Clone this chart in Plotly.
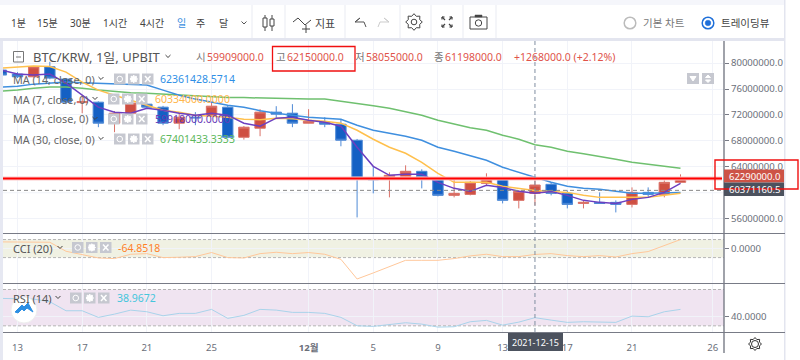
import math
import pandas as pd
import plotly.graph_objects as go

# ---------- data ----------
dates = pd.date_range("2021-11-12", "2021-12-24").strftime("%Y-%m-%d").tolist()
opens = [78.92,78.3,77.88,79.43,77.53,73.9,73.97,70.73,72.27,73.66,73.2,70.73,71.65,71.96,73.2,68.56,69.95,72.43,72.27,
         70.73,70.88,70.57,68.1,62.2,62.07,62.53,63.31,62.07,59.6,59.75,61.45,62.07,58.83,59.909,61.3,59.91,58.36,58.52,58.52,58.21,60.06,59.75,61.61]
highs = [79.2,78.6,79.55,80.2,77.7,75.05,74.1,72.6,74.0,73.8,73.4,72.27,72.43,73.97,73.5,70.3,72.89,73.35,73.66,
         72.89,71.65,71.34,68.3,64.08,63.15,64.23,63.62,62.38,62.23,61.8,63.0,62.3,60.37,62.15,61.61,60.37,58.83,60.06,58.83,60.83,60.83,61.92,62.84]
lows = [78.15,77.7,77.75,77.5,73.66,72.27,70.11,69.34,71.96,73.1,70.42,69.8,70.42,71.8,68.4,68.2,68.72,71.5,70.11,
        70.7,70.11,67.17,56.2,59.91,59.29,62.38,60.68,59.44,59.29,59.6,61.14,58.36,57.59,58.055,59.6,57.59,57.59,58.3,56.97,57.74,59.29,59.29,61.45]
closes = [78.15,77.88,79.43,77.68,73.97,74.05,70.73,72.27,73.82,73.2,70.73,71.65,71.55,73.35,68.56,70.11,72.43,72.12,70.73,
          71.04,70.57,68.1,62.23,62.0,62.69,63.31,62.38,59.6,59.91,61.61,62.23,58.83,60.22,61.198,59.91,58.21,58.52,58.36,58.21,60.06,59.75,61.61,62.29]
ma3 = [78.92,78.3,78.15,78.3,76.91,75.05,73.2,72.43,72.27,73.04,72.74,72.27,71.96,72.27,71.96,70.73,70.26,71.5,71.65,
       71.19,70.88,70.26,67.02,64.08,62.69,62.84,62.84,61.61,60.68,60.22,61.14,60.83,60.22,59.918,60.2,59.6,58.83,58.52,58.36,58.98,59.29,60.06,61.45]
ma7 = [79.23,79.38,79.54,79.46,78.61,77.06,75.83,75.05,74.28,73.51,72.74,72.43,71.96,71.81,71.65,71.34,71.27,71.5,71.42,
       71.19,71.04,70.73,69.64,68.25,67.02,66.09,64.7,63.0,61.61,61.61,61.61,60.99,60.68,60.334,60.2,60.06,59.6,59.29,59.29,59.29,59.29,59.6,59.91]
ma14 = [76.29,76.44,76.75,76.91,77.06,76.98,76.91,76.83,76.75,76.6,75.83,75.05,74.44,73.97,73.51,73.2,72.66,72.27,71.96,
        71.65,71.5,71.34,70.42,69.64,69.18,68.72,68.1,67.02,66.4,65.7,65.01,63.93,63.15,62.361,61.61,60.99,60.68,60.53,60.22,59.91,59.91,59.98,60.06]
ma30 = [75.67,75.83,76.13,76.29,76.29,76.13,75.83,75.6,75.44,75.36,75.21,75.05,74.9,74.74,74.67,74.67,74.59,74.51,74.44,
        74.44,74.44,74.13,73.74,73.43,73.04,72.5,71.96,71.19,70.57,70.03,69.64,68.87,68.25,67.401,67.02,66.4,66.01,65.63,65.16,64.7,64.39,64.08,63.77]
cci = [74,74,74,70,-30,-67,-104,-111,-63,-56,-100,-96,-89,-44,-100,-104,-56,-41,-56,
       -44,-63,-119,-337,-270,-204,-130,-130,-130,-111,-81,-63,-89,-89,-64.85,-56,-78,-89,-78,-93,-56,-33,30,100]
rsi = [60.2,60.2,59.4,56.5,46.6,46.6,39.3,42.9,47.3,45.5,41.1,43.7,43.7,48.1,38.2,41.5,48.1,47.3,44.8,
       44.8,43.7,39.3,30.1,29.4,31.6,33.4,31.9,28.6,29,34.5,36,30.8,34.1,38.97,36.3,33.8,34.5,34.5,33.8,40.7,40,45.5,48.1]
price_ticks = [56,64,68,72,76,80]
hidden_grid_price = 60
date_ticks = ["2021-11-13","2021-11-17","2021-11-21","2021-11-25","2021-12-01","2021-12-05","2021-12-09","2021-12-13","2021-12-17","2021-12-21","2021-12-26"]
date_labels = ["13","17","21","25","<b>12월</b>","5","9","13","17","21","26"]
last_price = 62.2
prev_line = 60.37116
cross_date = "2021-12-15"
FONT = "Noto Sans, Noto Sans CJK KR, sans-serif"
UP, DOWN = "#cf4f42", "#1460c4"
UP_EDGE, DOWN_EDGE = "#da7268", "#4f8ad6"
GREY = "#6b6f7a"

# ---------- helpers ----------
W, H = 800.0, 360.0
def P(x): return x / W
def Q(y): return 1 - y / H
shapes, notes = [], []
def rect(x0, y0, x1, y1, fill, line=None, lw=0, layer="above"):
    shapes.append(dict(type="rect", xref="paper", yref="paper", x0=P(x0), x1=P(x1), y0=Q(y0), y1=Q(y1),
                       fillcolor=fill, line=dict(color=line or fill, width=lw), layer=layer))
def seg(x0, y0, x1, y1, color, w=1, dash="solid", layer="above"):
    shapes.append(dict(type="line", xref="paper", yref="paper", x0=P(x0), x1=P(x1), y0=Q(y0), y1=Q(y1),
                       line=dict(color=color, width=w, dash=dash), layer=layer))
def circ(cx, cy, r, fill="rgba(0,0,0,0)", line="#888", w=1):
    shapes.append(dict(type="circle", xref="paper", yref="paper", x0=P(cx-r), x1=P(cx+r), y0=Q(cy+r), y1=Q(cy-r),
                       fillcolor=fill, line=dict(color=line, width=w), layer="above"))
def poly(pts, color, w=1, fill="rgba(0,0,0,0)", close=False):
    d = "M " + " L ".join(f"{P(a):.5f},{Q(b):.5f}" for a, b in pts) + (" Z" if close else "")
    shapes.append(dict(type="path", xref="paper", yref="paper", path=d, fillcolor=fill,
                       line=dict(color=color, width=w), layer="above"))
def text(x, y, s, color="#555a66", size=10.5, anchor="left"):
    notes.append(dict(xref="paper", yref="paper", x=P(x), y=Q(y), text=s, showarrow=False, xanchor=anchor,
                      yanchor="middle", font=dict(family=FONT, size=size, color=color), borderpad=0, borderwidth=0))
def chevron(x, y, color="#444"):
    poly([(x-2.5, y-1.5), (x, y+1), (x+2.5, y-1.5)], color, 1)
def gear(cx, cy, r, color, w=1, fill="rgba(0,0,0,0)"):
    pts = []
    for i in range(16):
        a = i * math.pi / 8
        rr = r if i % 2 == 0 else r * 0.74
        pts.append((cx + rr * math.cos(a), cy + rr * math.sin(a)))
    poly(pts, color, w, fill, True)
def buttons(x, y):
    for i in range(3):
        rect(x+i*14, y-5.5, x+i*14+11.5, y+5.5, "#c6c8d0")
    circ(x+5.75, y, 2.8, "rgba(0,0,0,0)", "#fff", 1)
    gear(x+19.75, y, 3.8, "#fff", 1, "#fff")
    seg(x+31, y-3, x+36.5, y+3, "#fff", 1.5)
    seg(x+31, y+3, x+36.5, y-3, "#fff", 1.5)

# ---------- page chrome ----------
rect(0, 0, 785, 5, "#f5f6fb")
rect(0, 38, 785, 41, "#e3e5ef")
rect(0, 41, 3, 360, "#e6e8f2")
rect(784, 0, 785.5, 360, "#e3e5ef")
for sx in [252, 285, 345, 400, 431, 463, 496]:
    seg(sx, 5, sx, 38, "#e9ebf2", 1)
for cx, s, c in [(18,"1분","#444"),(47,"15분","#444"),(80,"30분","#444"),(115,"1시간","#444"),(152,"4시간","#444"),
                 (181,"일","#3d8fe0"),(201,"주","#444"),(223,"달","#444"),(325,"지표","#444")]:
    text(cx, 23, s, c, 10 if s != "지표" else 11, "center")
chevron(244, 23, "#555")
# candle-type icon
seg(265, 15, 265, 31, "#444", 1); rect(263, 18, 267, 27, "#fff", "#444", 1)
seg(272, 15, 272, 31, "#444", 1); rect(270, 19, 274, 26, "#fff", "#444", 1)
# indicators icon
poly([(293, 22), (298, 18), (305, 25), (311, 20)], "#444", 1)
seg(302, 29, 310, 29, "#444", 1); seg(306, 25, 306, 33, "#444", 1)
# undo / redo
poly([(355, 22), (360, 18), (355, 22), (364, 22), (366, 27)], "#555", 1)
poly([(389, 22), (384, 18), (389, 22), (380, 22), (378, 27)], "#ccc", 1)
gear(414, 22, 8.3, "#444", 1); circ(414, 22, 2.8, line="#444")
for dx, dy in [(-1,-1),(1,-1),(-1,1),(1,1)]:
    seg(447+dx*2, 22+dy*2, 447+dx*5, 22+dy*5, "#444", 1.2)
    seg(447+dx*5, 22+dy*5, 447+dx*2.5, 22+dy*5, "#444", 1.2)
    seg(447+dx*5, 22+dy*5, 447+dx*5, 22+dy*2.5, "#444", 1.2)
rect(470, 17, 487, 29, "#fff", "#444", 1); rect(475, 15, 482, 17, "#444", "#444", 0.5); circ(478.5, 23, 3.2, line="#444")
circ(630, 23, 5.8, "#fff", "#bbbbbb", 1.5)
text(664, 22.5, "기본 차트", "#777", 10.5, "center")
circ(708, 23, 5.8, "#fff", "#1e6fd9", 1.5); circ(708, 23, 2.8, "#1e6fd9", "#1e6fd9", 0.5)
text(745, 22.5, "트레이딩뷰", "#444", 10.5, "center")

# ---------- chart legends ----------
rect(13.5, 51.5, 23.5, 62, "rgba(0,0,0,0)", "#777", 1); seg(16, 57, 21, 57, "#777", 1)
text(33, 57, "BTC/KRW, 1일, UPBIT", "#555", 13); chevron(168, 56.5)
RED = "#e0534a"
text(196, 57.5, "시", "#777"); text(207, 57.5, "59909000.0", RED)
text(276, 57.5, "고", "#777"); text(287, 57.5, "62150000.0", RED)
text(355, 57.5, "저", "#777"); text(366, 57.5, "58055000.0", RED)
text(434, 57.5, "종", "#777"); text(445, 57.5, "61198000.0", RED)
text(514, 57.5, "+1268000.0 (+2.12%)", RED)
rect(272.5, 46.5, 355, 71, "rgba(0,0,0,0)", "#f01010", 1.3)
for y, lab, bx, vx, val, col in [(79, "MA (14, close, 0)", 114, 160, "62361428.5714", "#2f8fe6"),
                                 (99, "MA (7, close, 0)", 108, 155, "60334000.0000", "#ffb74d"),
                                 (119, "MA (3, close, 0)", 108, 155, "59918000.0000", "#673ab7"),
                                 (139, "MA (30, close, 0)", 114, 160, "67401433.3333", "#5cb85c")]:
    text(13, y, lab, "#666", 10.8); chevron(bx-13, y-.5); buttons(bx, y); text(vx, y, val, col, 10.5)
rect(687, 73, 699, 84, "#c6c8d0"); rect(702, 73, 714, 84, "#c6c8d0")
poly([(690, 76.5), (696, 76.5), (693, 81)], "#fff", 1, "#fff", True)
poly([(705.5, 77.5), (710.5, 77.5), (708, 75)], "#fff", 1, "#fff", True)
poly([(705.5, 80), (710.5, 80), (708, 82.5)], "#fff", 1, "#fff", True)
text(13, 248, "CCI (20)", "#555", 11); chevron(60, 247.5); buttons(72, 247.5); text(118, 248, "-64.8518", "#ff7f27", 10.5)
text(13, 298, "RSI (14)", "#555", 11); chevron(58, 297.5); buttons(70, 298); text(117, 298, "38.9672", "#45c6dc", 10.5)
circ(24, 310, 13, "#fff", "#eeeeee", 1)
poly([(15, 312), (22, 305), (24, 307), (28, 303), (33, 312), (30, 310), (27, 308), (24, 311), (22, 309), (18, 313)],
     "#2d8fe3", 1, "#2d8fe3", True)

# ---------- frame and price tags ----------
FRAME = "#787b86"
for y in [233.5, 283.5, 332.5]:
    seg(3, y, 785, y, FRAME, 1.2)
seg(724, 41, 724, 353, FRAME, 1.4)
shapes.append(dict(type="line", xref="paper", yref="y", x0=P(3), x1=P(723), y0=prev_line*1e6, y1=prev_line*1e6,
                   line=dict(color="#888", width=1, dash="4px,3px"), layer="above"))
shapes.append(dict(type="line", xref="paper", yref="y", x0=P(3), x1=P(722), y0=last_price*1e6, y1=last_price*1e6,
                   line=dict(color="#fbcaca", width=4), layer="above"))
shapes.append(dict(type="line", xref="paper", yref="y", x0=P(3), x1=P(722), y0=last_price*1e6, y1=last_price*1e6,
                   line=dict(color="#ff0000", width=2), layer="above"))
shapes.append(dict(type="line", xref="x", yref="paper", x0=cross_date, x1=cross_date, y0=Q(332), y1=Q(41),
                   line=dict(color="#7f8ea0", width=1, dash="4px,3px"), layer="above"))
rect(724, 169.5, 784, 182.5, "#cd5346")
rect(724, 182.5, 784, 196, "#4c525e")
text(754, 176, "62290000.0", "#fff", 9.5, "center")
text(754, 189.5, "60371160.5", "#fff", 9.5, "center")
rect(715, 160, 798, 189, "rgba(0,0,0,0)", "#f01010", 1.4)
rect(508, 333, 563, 351, "#4c525e")
text(535.5, 342, cross_date, "#fff", 9, "center")
gear(755, 344, 6.5, "#333", 1); circ(755, 344, 3.5, line="#333")

# ---------- indicator bands ----------
GRID = "#f1f3f9"
shapes.append(dict(type="line", xref="paper", yref="y", x0=P(3), x1=P(724), y0=hidden_grid_price*1e6, y1=hidden_grid_price*1e6,
                   line=dict(color=GRID, width=1), layer="below"))
def band(yref, lo, hi, fill):
    shapes.append(dict(type="rect", xref="paper", yref=yref, x0=P(3), x1=P(724), y0=lo, y1=hi,
                       fillcolor=fill, line=dict(width=0), layer="below"))
    for v in (lo, hi):
        shapes.append(dict(type="line", xref="paper", yref=yref, x0=P(3), x1=P(724), y0=v, y1=v,
                           line=dict(color="#b4b4b4", width=1, dash="3px,2px"), layer="below"))
band("y2", -100, 100, "#f0f1e3")
band("y3", 30, 70, "#f0e4f1")

# ---------- figure ----------
fig = go.Figure()
M = lambda a: [v * 1e6 for v in a]
fig.add_trace(go.Candlestick(x=dates, open=M(opens), high=M(highs), low=M(lows), close=M(closes), whiskerwidth=0,
                             increasing=dict(line=dict(color=UP_EDGE, width=1), fillcolor=UP),
                             decreasing=dict(line=dict(color=DOWN_EDGE, width=1), fillcolor=DOWN),
                             xaxis="x", yaxis="y", showlegend=False))
for vals, col in [(ma30, "#6fc06f"), (ma14, "#3f8fdf"), (ma7, "#ffc04d"), (ma3, "#6c3fc0")]:
    fig.add_trace(go.Scatter(x=dates, y=M(vals), mode="lines", line=dict(color=col, width=1.5), xaxis="x", yaxis="y", showlegend=False))
fig.add_trace(go.Scatter(x=dates, y=cci, mode="lines", line=dict(color="#ffc79a", width=1), xaxis="x", yaxis="y2", showlegend=False))
fig.add_trace(go.Scatter(x=dates, y=rsi, mode="lines", line=dict(color="#a9d3ea", width=1), xaxis="x", yaxis="y3", showlegend=False))

xr = ["2021-11-12 02:28", "2021-12-26 16:34"]
xcommon = dict(type="date", range=xr, domain=[P(3), P(724)], tickvals=date_ticks, showgrid=True, gridcolor=GRID,
               gridwidth=1, zeroline=False, showline=False, rangeslider=dict(visible=False))
ycommon = dict(side="right", zeroline=False, showline=False, ticks="outside", ticklen=4, tickcolor=FRAME, tickwidth=1,
               tickfont=dict(family=FONT, size=9.6, color=GREY), gridcolor=GRID, gridwidth=1)
fig.update_layout(
    width=800, height=360, autosize=False, margin=dict(l=0, r=0, t=0, b=0), paper_bgcolor="#ffffff", plot_bgcolor="#ffffff",
    showlegend=False, boxgap=0.08, hovermode=False, font=dict(family=FONT),
    shapes=shapes, annotations=notes,
    xaxis=dict(**xcommon, anchor="y3", ticktext=date_labels, ticks="outside", ticklen=6, tickcolor="rgba(0,0,0,0)",
               tickfont=dict(family=FONT, size=9.6, color=GREY)),
    yaxis=dict(**ycommon, domain=[Q(233.5), Q(41)], range=[53.72e6, 83.4e6], tickvals=[v*1e6 for v in price_ticks],
               tickformat=".1f", anchor="x"),
    yaxis2=dict(**ycommon, domain=[Q(283.5), Q(233.5)], range=[-387, 167], tickvals=[0], tickformat=".4f", anchor="x"),
    yaxis3=dict(**ycommon, domain=[Q(332.5), Q(283.5)], range=[22.66, 76.6], tickvals=[40], tickformat=".4f", anchor="x"),
)
fig.write_html("out.html", config={"displayModeBar": False},
               post_script="document.body.style.margin='0';document.documentElement.style.overflow='hidden';")
